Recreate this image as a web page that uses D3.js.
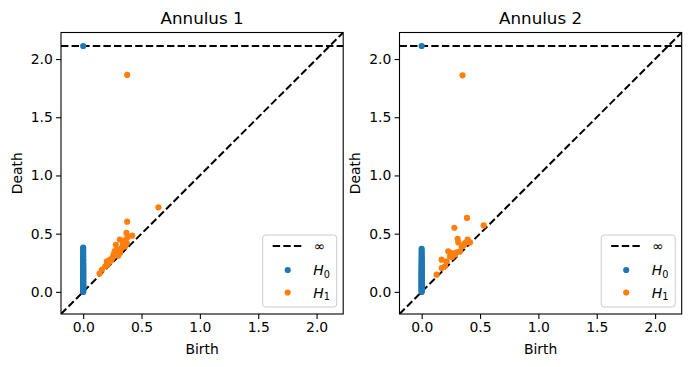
<!DOCTYPE html>
<html>
<head>
<meta charset="utf-8">
<script src="https://cdn.jsdelivr.net/npm/d3@7"></script>
<style>
  html, body { margin: 0; padding: 0; background: #fff; }
  text { font-family: "DejaVu Sans", sans-serif; fill: #000; }
</style>
</head>
<body>
<svg id="chart" width="691" height="367"></svg>
<script>
// ---------- data ----------
const titles = ["Annulus 1", "Annulus 2"];
const tickValues = [0.0, 0.5, 1.0, 1.5, 2.0];
const tickLabels = ["0.0", "0.5", "1.0", "1.5", "2.0"];
const axisDomain = [-0.19, 2.228];
const infDeath = 2.112;

// H0 (birth = 0) deaths, finite
const h0Death1 = [0.0, 0.006, 0.012, 0.019, 0.024, 0.031, 0.037, 0.044, 0.05, 0.057, 0.062, 0.069, 0.076, 0.081, 0.088, 0.095, 0.101, 0.108, 0.114, 0.121, 0.127, 0.134, 0.142, 0.148, 0.156, 0.163, 0.171, 0.178, 0.186, 0.193, 0.202, 0.21, 0.219, 0.228, 0.236, 0.246, 0.257, 0.268, 0.279, 0.292, 0.305, 0.32, 0.336, 0.352, 0.367, 0.381];
const h0Death2 = [0.0, 0.007, 0.013, 0.02, 0.026, 0.033, 0.039, 0.046, 0.052, 0.058, 0.065, 0.071, 0.078, 0.084, 0.091, 0.097, 0.104, 0.11, 0.117, 0.124, 0.13, 0.137, 0.145, 0.152, 0.159, 0.167, 0.175, 0.183, 0.191, 0.199, 0.208, 0.217, 0.226, 0.236, 0.246, 0.257, 0.268, 0.28, 0.293, 0.307, 0.322, 0.338, 0.353, 0.37];
// H0 point at infinity (birth 0)
const h0InfBirth = [0.0];

// H1 points
const h1Birth1 = [0.377, 0.645, 0.377, 0.371, 0.42, 0.38, 0.314, 0.345, 0.374, 0.28, 0.33, 0.36, 0.289, 0.317, 0.26, 0.3, 0.231, 0.25, 0.203, 0.217, 0.189, 0.205, 0.16, 0.14, 0.27, 0.34, 0.24, 0.352, 0.31];
const h1Death1 = [1.864, 0.726, 0.603, 0.506, 0.483, 0.47, 0.449, 0.42, 0.42, 0.405, 0.377, 0.39, 0.363, 0.334, 0.32, 0.31, 0.277, 0.29, 0.262, 0.248, 0.22, 0.23, 0.19, 0.157, 0.35, 0.4, 0.27, 0.44, 0.36];
const h1Birth2 = [0.35, 0.388, 0.28, 0.531, 0.308, 0.314, 0.394, 0.37, 0.414, 0.343, 0.228, 0.257, 0.328, 0.285, 0.243, 0.171, 0.214, 0.2, 0.171, 0.128, 0.3, 0.26, 0.36];
const h1Death2 = [1.86, 0.635, 0.551, 0.571, 0.455, 0.425, 0.449, 0.42, 0.425, 0.391, 0.348, 0.334, 0.348, 0.32, 0.305, 0.277, 0.262, 0.22, 0.205, 0.148, 0.34, 0.3, 0.4];

const panelsData = [
  { title: titles[0], h0: h0Death1, h1b: h1Birth1, h1d: h1Death1 },
  { title: titles[1], h0: h0Death2, h1b: h1Birth2, h1d: h1Death2 }
];

// ---------- layout ----------
const svg = d3.select("#chart");
svg.append("rect").attr("width", 691).attr("height", 367).attr("fill", "#fff");

const panelLeft = [61, 399.5];
const plotW = 282.2, plotTop = 32.5, plotBottom = 314;
const blue = "#1f77b4", orange = "#ff7f0e";
const R = 3.1;
const fs = 13.9;
const dashW = 2.0, dashArr = "7.4,3.2";

panelsData.forEach((p, i) => {
  const x0 = panelLeft[i];
  const x = d3.scaleLinear().domain(axisDomain).range([x0, x0 + plotW]);
  const y = d3.scaleLinear().domain(axisDomain).range([plotBottom, plotTop]);
  const g = svg.append("g");

  const clipId = "clip" + i;
  svg.append("clipPath").attr("id", clipId)
    .append("rect").attr("x", x0).attr("y", plotTop)
    .attr("width", plotW).attr("height", plotBottom - plotTop);
  const plot = g.append("g").attr("clip-path", `url(#${clipId})`);

  // diagonal
  plot.append("line")
    .attr("x1", x(axisDomain[0])).attr("y1", y(axisDomain[0]))
    .attr("x2", x(axisDomain[1])).attr("y2", y(axisDomain[1]))
    .attr("stroke", "#000").attr("stroke-width", dashW)
    .attr("stroke-dasharray", dashArr);
  // infinity line
  plot.append("line")
    .attr("x1", x(axisDomain[0])).attr("y1", y(infDeath))
    .attr("x2", x(axisDomain[1])).attr("y2", y(infDeath))
    .attr("stroke", "#000").attr("stroke-width", dashW)
    .attr("stroke-dasharray", dashArr);

  // H0
  plot.selectAll(".h0").data(p.h0).enter().append("circle")
    .attr("cx", x(0)).attr("cy", d => y(d)).attr("r", R).attr("fill", blue);
  plot.selectAll(".h0inf").data(h0InfBirth).enter().append("circle")
    .attr("cx", d => x(d)).attr("cy", y(infDeath)).attr("r", R).attr("fill", blue);
  // H1
  plot.selectAll(".h1").data(p.h1b.map((b, k) => [b, p.h1d[k]])).enter().append("circle")
    .attr("cx", d => x(d[0])).attr("cy", d => y(d[1])).attr("r", R).attr("fill", orange);

  // axes
  const xAxis = d3.axisBottom(x).tickValues(tickValues).tickFormat((d, k) => tickLabels[k])
    .tickSize(4.9).tickPadding(3.3);
  const yAxis = d3.axisLeft(y).tickValues(tickValues).tickFormat((d, k) => tickLabels[k])
    .tickSize(4.9).tickPadding(3.3);
  const gx = g.append("g").attr("transform", `translate(0,${plotBottom})`).call(xAxis);
  const gy = g.append("g").attr("transform", `translate(${x0},0)`).call(yAxis);
  [gx, gy].forEach(a => {
    a.select(".domain").remove();
    a.selectAll(".tick line").attr("stroke", "#000").attr("stroke-width", 1.1);
    a.selectAll(".tick text").attr("font-size", fs).attr("font-family", "DejaVu Sans").attr("fill", "#000");
  });

  // frame
  g.append("rect").attr("x", x0).attr("y", plotTop).attr("width", plotW)
    .attr("height", plotBottom - plotTop).attr("fill", "none")
    .attr("stroke", "#000").attr("stroke-width", 1.1);

  // title & labels
  const cx = x0 + plotW / 2;
  g.append("text").attr("x", cx).attr("y", 24).attr("text-anchor", "middle")
    .attr("font-size", 16.7).text(p.title);
  g.append("text").attr("x", cx).attr("y", 354).attr("text-anchor", "middle")
    .attr("font-size", fs).text("Birth");
  g.append("text").attr("transform", `translate(${x0 - 39.5},${(plotTop + plotBottom) / 2}) rotate(-90)`)
    .attr("text-anchor", "middle").attr("font-size", fs).text("Death");

  // legend
  const LW = 74, LH = 72;
  const L = x0 + plotW - 6.5 - LW, T = plotBottom - 7 - LH;
  const lg = g.append("g");
  lg.append("rect").attr("x", L).attr("y", T).attr("width", LW).attr("height", LH)
    .attr("rx", 3).attr("fill", "#fff").attr("fill-opacity", 0.8)
    .attr("stroke", "#cccccc").attr("stroke-width", 1);
  lg.append("line").attr("x1", L + 10).attr("x2", L + 39).attr("y1", T + 11).attr("y2", T + 11)
    .attr("stroke", "#000").attr("stroke-width", dashW).attr("stroke-dasharray", dashArr);
  lg.append("text").attr("x", L + 51).attr("y", T + 15.5).attr("font-size", fs).text("∞");
  const entries = [["0", blue, T + 35], ["1", orange, T + 57.5]];
  entries.forEach(([sub, col, yy]) => {
    lg.append("circle").attr("cx", L + 25).attr("cy", yy).attr("r", R).attr("fill", col);
    const t = lg.append("text").attr("x", L + 50.5).attr("y", yy + 5).attr("font-size", fs);
    t.append("tspan").attr("font-style", "italic").text("H");
    t.append("tspan").attr("font-size", fs * 0.7).attr("dy", 2.8).text(sub);
  });
});
</script>
</body>
</html>
